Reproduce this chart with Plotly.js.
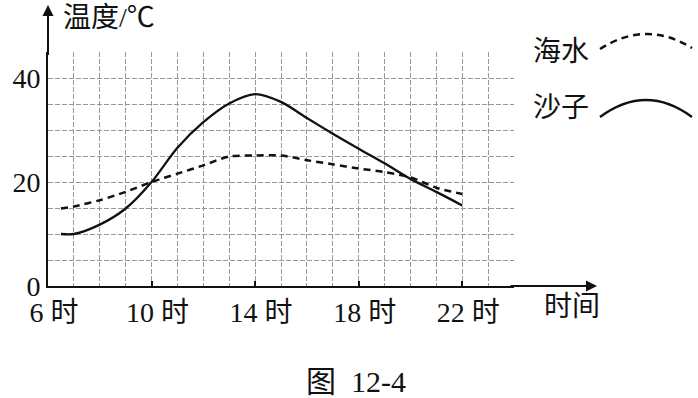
<!DOCTYPE html>
<html><head><meta charset="utf-8">
<script src="https://cdn.plot.ly/plotly-3.0.1.min.js"></script>
<style>html,body{margin:0;padding:0;background:#fff}#chart{width:698px;height:398px}</style>
</head><body><div id="chart"></div>
<script>
// ---- data ----
const hours    = [6.5, 7, 8, 9, 10, 11, 12, 13, 14, 15, 16, 17, 18, 19, 20, 21, 22];
const sandTemp = [10, 10, 11.8, 14.9, 20, 26.6, 31.5, 35.1, 36.9, 35.4, 32.3, 29.3, 26.4, 23.6, 20.6, 18.1, 15.5];
const seaTemp  = [14.9, 15.3, 16.5, 18.1, 20, 21.6, 23.2, 24.9, 25.1, 25.1, 24.2, 23.4, 22.6, 21.9, 20.9, 18.9, 17.7];
const xTickVals = [6, 10, 14, 18, 22];
const xTickText = ['6 时', '10 时', '14 时', '18 时', '22 时'];
const yTickVals = [0, 20, 40];
const yTickText = ['0', '20', '40'];
const seriesNames = ['海水', '沙子'];
const yTitle = '温度/℃';
const xTitle = '时间';
const caption = '图\u200212-4';

// ---- layout helpers (pixel -> paper) ----
const W = 698, H = 398, M = {l: 48, r: 184, t: 52, b: 112};
const PW = W - M.l - M.r, PH = H - M.t - M.b;
const px = X => (X - M.l) / PW;
const py = Y => (H - M.b - Y) / PH;

const FONT = 'Liberation Serif, Noto Sans CJK SC, serif';
const INK = '#111111';
const GRID = '#999999';
const FS = 28;

const traces = [
  {x: hours, y: seaTemp, name: seriesNames[0], mode: 'lines',
   line: {color: INK, width: 2.5, dash: '7px,5px', shape: 'spline', smoothing: 0.8}},
  {x: hours, y: sandTemp, name: seriesNames[1], mode: 'lines',
   line: {color: INK, width: 2.3, shape: 'spline', smoothing: 0.8}}
];

const gridStyle = {showgrid: true, gridcolor: GRID, gridwidth: 1, griddash: '5px,2px'};

const layout = {
  width: W, height: H, margin: M, showlegend: false,
  paper_bgcolor: '#fff', plot_bgcolor: '#fff',
  font: {family: FONT, color: INK, size: FS},
  xaxis: Object.assign({
    range: [6, 24], tickmode: 'array', tickvals: xTickVals, ticktext: xTickText,
    ticks: 'inside', ticklen: 5, tickwidth: 2, tickcolor: INK,
    showline: true, linecolor: INK, linewidth: 2, zeroline: false,
    tickfont: {family: FONT, size: FS, color: INK},
    ticklabelshift: 6, ticklabelstandoff: 0,
    minor: Object.assign({dtick: 1, ticks: ''}, gridStyle)
  }, gridStyle),
  yaxis: Object.assign({
    range: [0, 45], tickmode: 'array', tickvals: yTickVals, ticktext: yTickText,
    ticks: '', showline: true, linecolor: INK, linewidth: 2, zeroline: false,
    tickfont: {family: FONT, size: FS, color: INK},
    ticklabelstandoff: 0,
    minor: Object.assign({dtick: 5, ticks: ''}, gridStyle)
  }, gridStyle),
  annotations: [
    // axis arrows
    {xref: 'paper', yref: 'paper', x: px(597), y: 0, text: ' ', font: {size: 1},
     showarrow: true, axref: 'pixel', ayref: 'pixel', ax: -88, ay: 0,
     arrowhead: 2, arrowsize: 1.1, arrowwidth: 2, arrowcolor: INK},
    {xref: 'paper', yref: 'paper', x: 0, y: py(5), text: ' ', font: {size: 1},
     showarrow: true, axref: 'pixel', ayref: 'pixel', ax: 0, ay: 52,
     arrowhead: 2, arrowsize: 1.1, arrowwidth: 2, arrowcolor: INK},
    // titles
    {xref: 'paper', yref: 'paper', x: px(61), y: py(17), xanchor: 'left', yanchor: 'middle',
     text: yTitle, showarrow: false, font: {family: FONT, size: FS, color: INK}},
    {xref: 'paper', yref: 'paper', x: px(542), y: py(306), xanchor: 'left', yanchor: 'middle',
     text: xTitle, showarrow: false, font: {family: FONT, size: FS, color: INK}},
    // key
    {xref: 'paper', yref: 'paper', x: px(531), y: py(51), xanchor: 'left', yanchor: 'middle',
     text: seriesNames[0], showarrow: false, font: {family: FONT, size: FS, color: INK}},
    {xref: 'paper', yref: 'paper', x: px(531), y: py(107), xanchor: 'left', yanchor: 'middle',
     text: seriesNames[1], showarrow: false, font: {family: FONT, size: FS, color: INK}},
    // caption
    {xref: 'paper', yref: 'paper', x: px(356), y: py(382), xanchor: 'center', yanchor: 'middle',
     text: caption, showarrow: false, font: {family: FONT, size: 30, color: INK}}
  ],
  shapes: [
    {type: 'path', xref: 'paper', yref: 'paper',
     path: `M${px(600)},${py(49)} Q${px(646)},${py(19.5)} ${px(692)},${py(48)}`,
     line: {color: INK, width: 2.5, dash: '7px,5px'}},
    {type: 'path', xref: 'paper', yref: 'paper',
     path: `M${px(600)},${py(117)} Q${px(646)},${py(83)} ${px(692)},${py(117)}`,
     line: {color: INK, width: 2.3}}
  ]
};

Plotly.newPlot('chart', traces, layout, {staticPlot: true, displayModeBar: false});
</script>
</body></html>
